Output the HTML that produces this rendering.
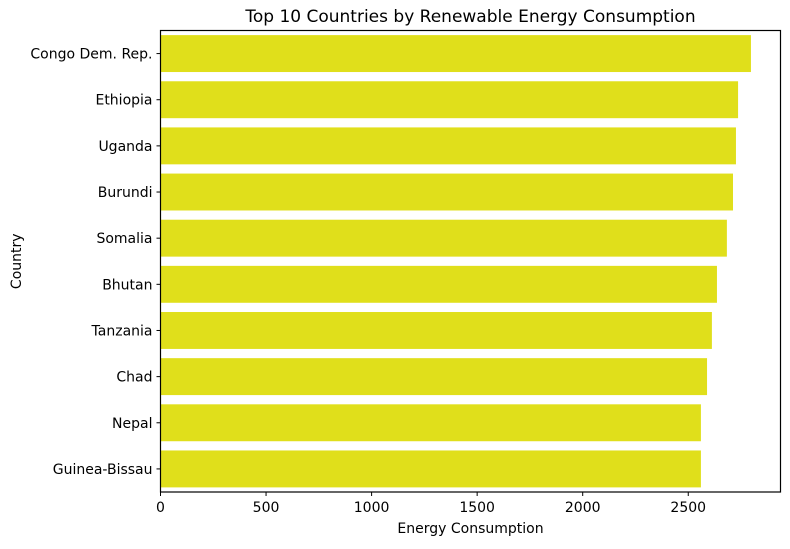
<!DOCTYPE html>
<html><head><meta charset="utf-8"><style>
body{margin:0;background:#fff;font-family:"DejaVu Sans","Liberation Sans",sans-serif;}
</style></head><body>
<svg id="chart" width="790" height="545" xmlns="http://www.w3.org/2000/svg" font-family="DejaVu Sans, Liberation Sans, sans-serif"></svg>
<script>
const countries=["Congo Dem. Rep.","Ethiopia","Uganda","Burundi","Somalia","Bhutan","Tanzania","Chad","Nepal","Guinea-Bissau"];
const values=[2797,2736,2726,2712,2683,2636,2612,2589,2560,2560];
const xTicks=[0,500,1000,1500,2000,2500];
const svg=document.getElementById('chart');
const NS='http://www.w3.org/2000/svg';
const L=160.5,R=780.5,T=30.5,B=492;
const x=v=>L+v*0.2111;
const band=(B-T)/countries.length;
function mk(tag,attrs,txt){const e=document.createElementNS(NS,tag);for(const k in attrs)e.setAttribute(k,attrs[k]);if(txt!=null)e.textContent=txt;svg.appendChild(e);return e;}
countries.forEach((c,i)=>{
 const y0=T+band*i+band*0.1;
 const r=mk('rect',{x:L,y:y0,width:x(values[i])-L,height:band*0.8,fill:'#e0df1b'});
 
 
 const cy=T+band*(i+0.5);
 mk('line',{x1:L-4,x2:L,y1:cy,y2:cy,stroke:'#000','stroke-width':1});
 const t=mk('text',{x:L-8,y:cy+5,'text-anchor':'end','font-size':14,fill:'#000'},c);
 
 
});
xTicks.forEach(v=>{
 const px=x(v);
 mk('line',{x1:px,x2:px,y1:B,y2:B+4,stroke:'#000','stroke-width':1});
 const t=mk('text',{x:px,y:B+20,'text-anchor':'middle','font-size':14,fill:'#000'},v);
 
 
});
const f=mk('rect',{x:L,y:T,width:R-L,height:B-T,fill:'none',stroke:'#000','stroke-width':1.2});


const ti=mk('text',{x:(L+R)/2,y:22,'text-anchor':'middle','font-size':17,fill:'#000'},'Top 10 Countries by Renewable Energy Consumption');


const xl=mk('text',{x:(L+R)/2,y:533,'text-anchor':'middle','font-size':14,fill:'#000'},'Energy Consumption');


const yl=mk('text',{x:0,y:0,'text-anchor':'middle','font-size':14,fill:'#000',transform:`translate(21,${(T+B)/2}) rotate(-90)`},'Country');


</script>
</body></html>
